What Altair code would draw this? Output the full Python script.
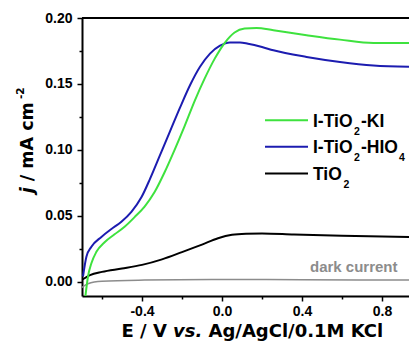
import altair as alt
import pandas as pd

# Linear-sweep photocurrent, E in V vs Ag/AgCl/0.1M KCl, j in mA cm^-2
ki_E = [-0.683, -0.670, -0.653, -0.628, -0.587, -0.537, -0.487, -0.437, -0.387,
        -0.337, -0.287, -0.237, -0.187, -0.137, -0.087, -0.037, 0.013, 0.063,
        0.113, 0.173, 0.257, 0.423, 0.590, 0.757, 0.935]
ki_j = [-0.011, 0.004, 0.014, 0.0227, 0.030, 0.036, 0.0417, 0.049, 0.057,
        0.068, 0.083, 0.100, 0.118, 0.137, 0.154, 0.169, 0.181, 0.189,
        0.192, 0.1925, 0.1907, 0.187, 0.1836, 0.181, 0.181]

hio4_E = [-0.695, -0.678, -0.653, -0.603, -0.553, -0.503, -0.453, -0.403, -0.360,
          -0.310, -0.260, -0.210, -0.160, -0.110, -0.060, -0.010, 0.040, 0.090,
          0.130, 0.200, 0.257, 0.423, 0.590, 0.757, 0.935]
hio4_j = [0.004, 0.019, 0.0265, 0.034, 0.040, 0.0455, 0.053, 0.064, 0.078,
          0.096, 0.114, 0.132, 0.149, 0.163, 0.173, 0.179, 0.1815, 0.1815,
          0.1805, 0.178, 0.1755, 0.1705, 0.1667, 0.164, 0.163]

tio2_E = [-0.704, -0.660, -0.600, -0.500, -0.400, -0.300, -0.200, -0.100, -0.020,
          0.050, 0.120, 0.200, 0.360, 0.600, 0.935]
tio2_j = [0.0010, 0.0050, 0.0075, 0.0100, 0.0128, 0.0170, 0.0225, 0.0282, 0.0330,
          0.0356, 0.0364, 0.0366, 0.0358, 0.0349, 0.0340]

dark_E = [-0.710, -0.670, -0.600, -0.387, -0.050, 0.400, 0.935]
dark_j = [-0.0055, -0.0015, 0.0003, 0.0013, 0.0018, 0.0015, 0.0013]

series_names = ["I-TiO2-KI", "I-TiO2-HIO4", "TiO2", "dark current"]
series_colors = ["#3ee23e", "#1c1cb0", "#000000", "#8c8c8c"]

x_ticks = [-0.6, -0.4, -0.2, 0.0, 0.2, 0.4, 0.6, 0.8]
y_ticks = [0.0, 0.025, 0.05, 0.075, 0.10, 0.125, 0.15, 0.175, 0.20]

# legend label pieces: (text, is_subscript)
legend_pieces = [
    [("I-TiO", False), ("2", True), ("-KI", False)],
    [("I-TiO", False), ("2", True), ("-HIO", False), ("4", True)],
    [("TiO", False), ("2", True)],
]

# ---------------------------------------------------------------- layout
LEFT, TOP = 82, 18
W, H = 327, 278

x_scale = alt.Scale(domain=[-0.7, 0.935], nice=False, zero=False)
y_scale = alt.Scale(domain=[-0.0108, 0.2], nice=False, zero=False)

x_major = "abs(datum.value*2.5 - round(datum.value*2.5)) < 0.001"
y_major = "abs(datum.value*20 - round(datum.value*20)) < 0.001"

axis_common = dict(
    title=None, grid=False, domainColor="black", domainWidth=2,
    tickColor="black", tickWidth=1.5, labelColor="black",
    labelFont="Liberation Sans", labelFontWeight="bold", labelFontSize=14,
    labelOverlap=False, labelFlush=False,
)
x_axis = alt.Axis(
    values=x_ticks,
    labelExpr=f"{x_major} ? (datum.value < 0 ? '-' : '') + format(abs(datum.value), '.1f') : ''",
    tickSize={"condition": {"test": x_major, "value": 5}, "value": 3},
    labelPadding=3, **axis_common,
)
y_axis = alt.Axis(
    values=y_ticks,
    labelExpr=f"{y_major} ? format(datum.value, '.2f') : ''",
    tickSize={"condition": {"test": y_major, "value": 5}, "value": 3},
    labelPadding=5, **axis_common,
)

x_enc = alt.X("E:Q", scale=x_scale, axis=x_axis)
y_enc = alt.Y("j:Q", scale=y_scale, axis=y_axis)


def curve(E, j, color, width):
    df = pd.DataFrame({"E": E, "j": j})
    return alt.Chart(df).mark_line(
        color=color, strokeWidth=width, interpolate="monotone", clip=True
    ).encode(x=x_enc, y=y_enc, order="E:Q")


def text_at(txt, sx, sy, size, font="Liberation Sans", style="normal",
            color="black", angle=0):
    return alt.Chart(alt.Data(values=[{}])).mark_text(
        text=txt, font=font, fontSize=size, fontWeight="bold", fontStyle=style,
        color=color, align="left", baseline="alphabetic", angle=angle,
    ).encode(x=alt.value(sx - LEFT), y=alt.value(sy - TOP))


def hline(sx1, sx2, sy, color, width=2):
    return alt.Chart(alt.Data(values=[{}])).mark_rule(
        color=color, strokeWidth=width
    ).encode(x=alt.value(sx1 - LEFT), x2=alt.value(sx2 - LEFT), y=alt.value(sy - TOP))


layers = [
    curve(dark_E, dark_j, series_colors[3], 1.5),
    curve(tio2_E, tio2_j, series_colors[2], 2),
    curve(hio4_E, hio4_j, series_colors[1], 2),
    curve(ki_E, ki_j, series_colors[0], 2),
    # top frame line
    hline(LEFT, LEFT + W, TOP, "black", 2),
]

# legend
row_y = [126.7, 153.3, 180.0]
piece_x = [
    [313, 354, 361],
    [313, 354, 361, 399],
    [313, 343.5],
]
for k in range(3):
    layers.append(hline(265, 308, row_y[k] - 6.5, series_colors[k], 2))
    for (txt, sub), px in zip(legend_pieces[k], piece_x[k]):
        if sub:
            layers.append(text_at(txt, px, row_y[k] + 8, 10.5))
        else:
            layers.append(text_at(txt, px, row_y[k], 17.5))

# dark-current label
layers.append(text_at(series_names[3], 310, 272, 15, color=series_colors[3]))

# x-axis title
layers += [
    text_at("E / V", 121.5, 337, 18, font="DejaVu Sans"),
    text_at("vs.", 173, 337, 18, font="DejaVu Sans", style="italic"),
    text_at("Ag/AgCl/0.1M KCl", 208.5, 337, 18, font="DejaVu Sans"),
]

# y-axis title (rotated)
layers += [
    text_at("j", 33, 193.3, 17.5, font="DejaVu Sans", style="italic", angle=270),
    text_at("/ mA cm", 33, 181.2, 17.5, font="DejaVu Sans", angle=270),
    text_at("-2", 24, 99, 10.5, font="DejaVu Sans", angle=270),
]

chart = alt.layer(*layers).properties(
    width=W, height=H,
    padding={"left": LEFT, "top": TOP, "right": 0, "bottom": 341 - TOP - H},
    autosize=alt.AutoSizeParams(type="none"),
).configure_view(stroke=None)

chart.save("out.html", embed_options={"renderer": "svg", "actions": False})
